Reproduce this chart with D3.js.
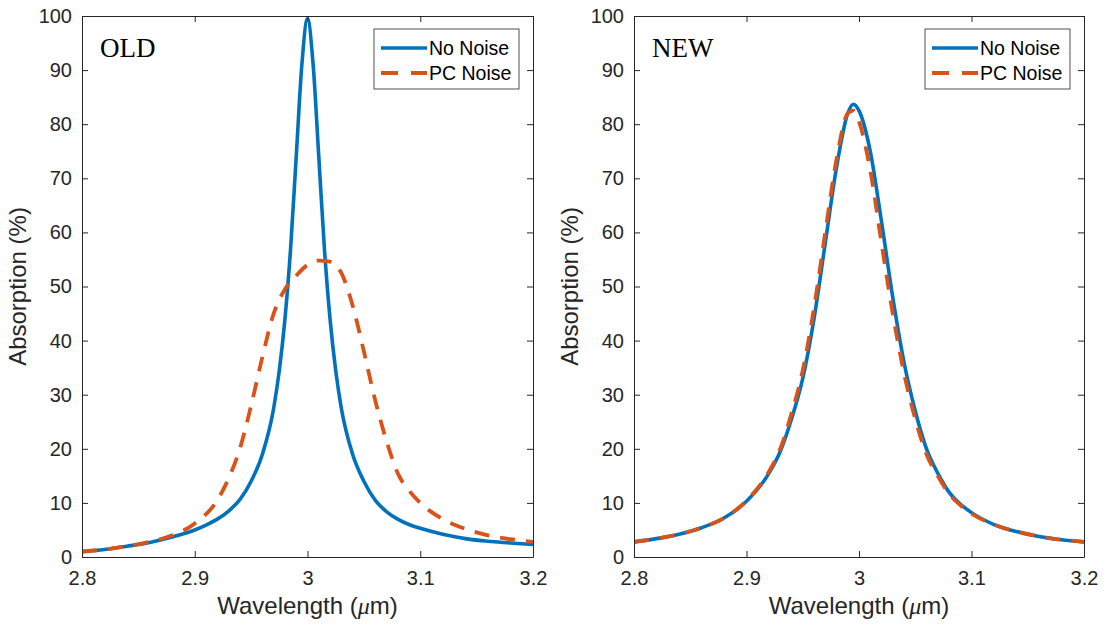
<!DOCTYPE html>
<html><head><meta charset="utf-8">
<script src="https://cdn.jsdelivr.net/npm/d3@7"></script>
<style>body{margin:0;background:#fff;} svg{display:block;}</style>
</head><body>
<svg id="chart" width="1107" height="626"></svg>
<script>
// ---- data ----
const xTicks = [2.8, 2.9, 3.0, 3.1, 3.2];
const xTickLabels = ["2.8", "2.9", "3", "3.1", "3.2"];
const yTicks = [0, 10, 20, 30, 40, 50, 60, 70, 80, 90, 100];
const seriesNames = ["No Noise", "PC Noise"];
const panelTitles = ["OLD", "NEW"];

const wlOldNoNoise = [2.80, 2.82, 2.84, 2.86, 2.88, 2.90, 2.91, 2.92, 2.93, 2.94, 2.95, 2.96, 2.97, 2.975, 2.98, 2.985, 2.99, 2.995, 3.00, 3.005, 3.01, 3.015, 3.02, 3.025, 3.03, 3.04, 3.05, 3.06, 3.07, 3.08, 3.09, 3.10, 3.12, 3.14, 3.16, 3.18, 3.20];
const oldNoNoise   = [1.0, 1.4, 2.0, 2.7, 3.7, 5.0, 5.9, 7.0, 8.5, 10.6, 14.0, 19.0, 27.5, 34.5, 44.0, 57.0, 74.0, 91.0, 99.5, 91.0, 74.0, 57.0, 44.0, 34.5, 27.5, 19.0, 14.0, 10.5, 8.4, 7.0, 6.0, 5.3, 4.2, 3.4, 2.9, 2.6, 2.3];

const wlOldPC = [2.80, 2.82, 2.84, 2.86, 2.88, 2.90, 2.92, 2.93, 2.94, 2.95, 2.96, 2.97, 2.98, 2.99, 3.00, 3.01, 3.02, 3.03, 3.04, 3.05, 3.06, 3.07, 3.08, 3.09, 3.10, 3.12, 3.14, 3.16, 3.18, 3.20];
const oldPC   = [1.0, 1.4, 2.0, 2.8, 4.0, 6.2, 10.5, 14.5, 20.0, 28.0, 37.0, 45.0, 49.5, 52.0, 54.0, 54.8, 54.6, 52.5, 46.5, 38.0, 29.0, 21.5, 15.5, 12.3, 10.0, 7.0, 5.2, 4.0, 3.3, 2.8];

const wlNewNoNoise = [2.80, 2.82, 2.84, 2.86, 2.88, 2.90, 2.92, 2.93, 2.94, 2.95, 2.96, 2.97, 2.98, 2.99, 2.995, 3.00, 3.01, 3.02, 3.03, 3.04, 3.05, 3.06, 3.07, 3.08, 3.09, 3.10, 3.12, 3.14, 3.16, 3.18, 3.20];
const newNoNoise   = [2.8, 3.4, 4.2, 5.4, 7.2, 10.3, 15.5, 19.5, 25.5, 33.0, 44.0, 58.0, 72.0, 82.0, 83.7, 82.5, 75.0, 62.0, 48.0, 36.0, 27.0, 20.0, 15.5, 12.0, 9.8, 8.2, 6.0, 4.7, 3.8, 3.2, 2.8];

const wlNewPC = [2.80, 2.82, 2.84, 2.86, 2.88, 2.90, 2.92, 2.93, 2.94, 2.95, 2.96, 2.97, 2.98, 2.99, 2.995, 3.00, 3.01, 3.02, 3.03, 3.04, 3.05, 3.06, 3.07, 3.08, 3.09, 3.10, 3.12, 3.14, 3.16, 3.18, 3.20];
const newPC   = [2.8, 3.4, 4.2, 5.4, 7.2, 10.4, 15.8, 20.0, 26.5, 34.5, 46.0, 60.0, 73.5, 82.0, 82.5, 80.5, 71.5, 58.0, 45.0, 34.0, 25.5, 19.0, 15.0, 11.7, 9.6, 8.0, 6.0, 4.7, 3.8, 3.2, 2.8];

// ---- layout ----
const W = 1107, H = 626;
const colors = ["#0072BD", "#D95319"];
const axisColor = "#262626";
const panels = [
  {title: panelTitles[0], left: 82, right: 533, series: [[wlOldNoNoise, oldNoNoise], [wlOldPC, oldPC]]},
  {title: panelTitles[1], left: 634, right: 1084, series: [[wlNewNoNoise, newNoNoise], [wlNewPC, newPC]]}
];
const plotTop = 16, plotBottom = 557;
const svg = d3.select("#chart");
svg.append("rect").attr("width", W).attr("height", H).attr("fill", "#fff");

panels.forEach((p, pi) => {
  const x = d3.scaleLinear().domain([2.8, 3.2]).range([p.left, p.right]);
  const y = d3.scaleLinear().domain([0, 100]).range([plotBottom, plotTop]);
  const g = svg.append("g");
  const clipId = "clip" + pi;
  svg.append("clipPath").attr("id", clipId).append("rect")
    .attr("x", p.left).attr("y", plotTop).attr("width", p.right - p.left).attr("height", plotBottom - plotTop);

  // lines
  const line = d3.line().x(d => x(d[0])).y(d => y(d[1])).curve(d3.curveMonotoneX);
  p.series.forEach((s, si) => {
    const pts = s[0].map((w, i) => [w, s[1][i]]);
    g.append("path").datum(pts)
      .attr("clip-path", `url(#${clipId})`)
      .attr("d", line)
      .attr("fill", "none")
      .attr("stroke", colors[si])
      .attr("stroke-width", si === 0 ? 3.6 : 3.8)
      .attr("stroke-dasharray", si === 1 ? "15,11" : null)
      .attr("stroke-linejoin", "round");
  });

  // axes
  const tickFont = "Arial, 'Liberation Sans', Helvetica, sans-serif";
  const xb = g.append("g").attr("transform", `translate(0,${plotBottom})`)
    .call(d3.axisBottom(x).tickValues(xTicks).tickFormat((d, i) => xTickLabels[i]).tickSizeInner(-6).tickSizeOuter(0).tickPadding(14));
  const xt = g.append("g").attr("transform", `translate(0,${plotTop})`)
    .call(d3.axisTop(x).tickValues(xTicks).tickFormat("").tickSizeInner(-6).tickSizeOuter(0));
  const yl = g.append("g").attr("transform", `translate(${p.left},0)`)
    .call(d3.axisLeft(y).tickValues(yTicks).tickSizeInner(-6).tickSizeOuter(0).tickPadding(10));
  const yr = g.append("g").attr("transform", `translate(${p.right},0)`)
    .call(d3.axisRight(y).tickValues(yTicks).tickFormat("").tickSizeInner(-6).tickSizeOuter(0));
  [xb, xt, yl, yr].forEach(a => {
    a.selectAll("path.domain").attr("stroke", axisColor).attr("stroke-width", 1);
    a.selectAll(".tick line").attr("stroke", axisColor).attr("stroke-width", 1);
    a.selectAll(".tick text").attr("fill", axisColor).style("font-family", tickFont).style("font-size", "20px");
  });
  xb.selectAll(".tick text").attr("dy", "0.71em");

  // axis labels
  g.append("text")
    .attr("x", (p.left + p.right) / 2).attr("y", 614)
    .attr("text-anchor", "middle")
    .attr("fill", axisColor)
    .style("font-family", tickFont).style("font-size", "24px")
    .call(t => {
      t.append("tspan").text("Wavelength (");
      t.append("tspan").style("font-style", "italic").style("font-family", "'Liberation Serif', 'Times New Roman', serif").text("\u03BC");
      t.append("tspan").text("m)");
    });
  g.append("text")
    .attr("transform", `translate(${p.left - 56},${(plotTop + plotBottom) / 2}) rotate(-90)`)
    .attr("text-anchor", "middle")
    .attr("fill", axisColor)
    .style("font-family", tickFont).style("font-size", "24px")
    .text("Absorption (%)");

  // panel title
  g.append("text")
    .attr("x", p.left + 18).attr("y", 57)
    .attr("fill", "#000")
    .style("font-family", "'Liberation Serif', 'Times New Roman', serif").style("font-size", "27px")
    .text(p.title);

  // legend
  const lg = g.append("g").attr("transform", `translate(${p.right - 159},29)`);
  lg.append("rect").attr("x", 0).attr("y", 0).attr("width", 145).attr("height", 60)
    .attr("fill", "#fff").attr("stroke", axisColor).attr("stroke-width", 0.8);
  seriesNames.forEach((name, i) => {
    const yy = 19 + i * 25;
    lg.append("line").attr("x1", 7).attr("x2", 53).attr("y1", yy).attr("y2", yy)
      .attr("stroke", colors[i]).attr("stroke-width", i === 0 ? 3.6 : 3.8)
      .attr("stroke-dasharray", i === 1 ? "17,13" : null);
    lg.append("text").attr("x", 55).attr("y", yy).attr("dy", "0.35em")
      .attr("fill", "#000")
      .style("font-family", tickFont).style("font-size", "19.5px")
      .text(name);
  });
});
</script>
</body></html>
